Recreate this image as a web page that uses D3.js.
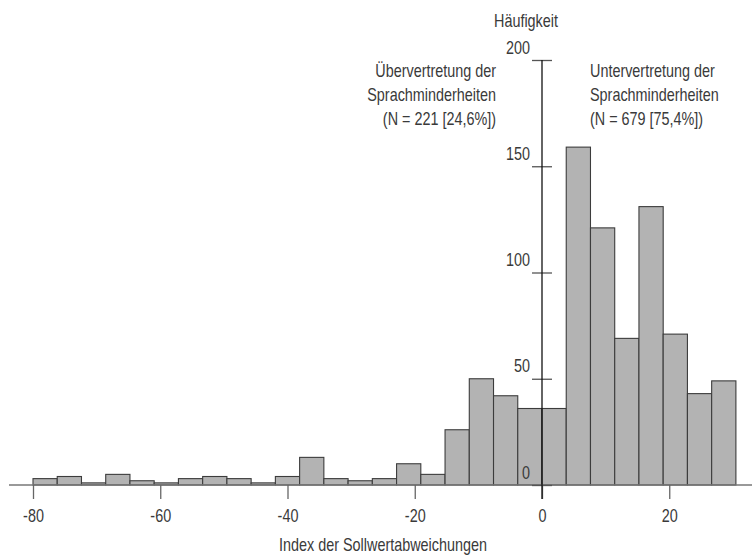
<!DOCTYPE html>
<html>
<head>
<meta charset="utf-8">
<script src="https://cdn.jsdelivr.net/npm/d3@7"></script>
<style>
  body { margin: 0; background: #fff; }
  text { font-family: "Liberation Sans", Arial, sans-serif; fill: #3a3a3a; }
</style>
</head>
<body>
<div id="chart"></div>
<script>
// histogram: bins of width 80/21 starting at -80
const BIN_START = -80;
const BIN_WIDTH = 80 / 21;
const counts = [3, 4, 1, 5, 2, 1, 3, 4, 3, 1, 4, 13, 3, 2, 3, 10, 5, 26, 50, 42, 36,
                36, 159, 121, 69, 131, 71, 43, 49];
const xTicks = [-80, -60, -40, -20, 0, 20];
const yTicks = [0, 50, 100, 150, 200];
const xTitle = "Index der Sollwertabweichungen";
const yTitle = "Häufigkeit";
const leftNote  = ["Übervertretung der", "Sprachminderheiten", "(N = 221 [24,6%])"];
const rightNote = ["Untervertretung der", "Sprachminderheiten", "(N = 679 [75,4%])"];

const W = 752, H = 555;
const NARROW = 0.8; // the original uses a condensed face
const FS = 18;

const svg = d3.select("#chart").append("svg")
  .attr("width", W).attr("height", H);

const x = d3.scaleLinear().domain([-80, 0]).range([33, 542]);
const y = d3.scaleLinear().domain([0, 200]).range([485, 60]);

const bins = counts.map((c, i) => ({
  x0: BIN_START + i * BIN_WIDTH,
  x1: BIN_START + (i + 1) * BIN_WIDTH,
  n: c
}));

// text block at (tx,ty), squeezed horizontally
function label(tx, ty, lines, anchor, lineH = 24) {
  const g = svg.append("g")
    .attr("transform", `translate(${tx},${ty}) scale(${NARROW},1)`);
  g.append("text")
    .attr("text-anchor", anchor)
    .attr("font-size", FS)
    .selectAll("tspan")
    .data(lines)
    .join("tspan")
      .attr("x", 0)
      .attr("y", (d, i) => i * lineH)
      .text(d => d);
}

// bars
svg.append("g")
  .selectAll("rect")
  .data(bins)
  .join("rect")
    .attr("x", d => x(d.x0))
    .attr("y", d => y(d.n))
    .attr("width", d => x(d.x1) - x(d.x0))
    .attr("height", d => y(0) - y(d.n))
    .attr("fill", "#b3b3b3")
    .attr("stroke", "#3c3c3c")
    .attr("stroke-width", 1.1);

// baseline
svg.append("line")
  .attr("x1", 9).attr("x2", W)
  .attr("y1", y(0)).attr("y2", y(0))
  .attr("stroke", "#777").attr("stroke-width", 1.3);

// x axis
const xAxis = svg.append("g")
  .attr("transform", `translate(0,${y(0)})`)
  .call(d3.axisBottom(x).tickValues(xTicks).tickSize(14).tickPadding(0)
    .tickFormat(d => d));
xAxis.select(".domain").remove();
xAxis.selectAll(".tick line").attr("stroke", "#666").attr("stroke-width", 1.3);
xAxis.selectAll(".tick text")
  .attr("y", 37).attr("dy", null)
  .attr("transform", `scale(${NARROW},1)`)
  .attr("font-size", FS).attr("fill", "#3a3a3a")
  .attr("font-family", null);

label(383, 551, [xTitle], "middle");

// y axis
const yAxis = svg.append("g")
  .attr("transform", `translate(${x(0)},0)`)
  .call(d3.axisLeft(y).tickValues(yTicks).tickSize(10).tickPadding(0));
yAxis.select(".domain").remove();
yAxis.selectAll(".tick line")
  .attr("x1", -10).attr("x2", 10)
  .attr("stroke", "#555").attr("stroke-width", 1.3);
yAxis.selectAll(".tick text")
  .attr("x", -12 / NARROW).attr("dy", -7)
  .attr("transform", `scale(${NARROW},1)`)
  .attr("font-size", FS).attr("fill", "#3a3a3a")
  .attr("font-family", null);

svg.append("line")
  .attr("x1", x(0)).attr("x2", x(0))
  .attr("y1", y(200)).attr("y2", y(0) + 14)
  .attr("stroke", "#111").attr("stroke-width", 1.3);

label(526, 27, [yTitle], "middle");

// annotations
label(496, 77, leftNote, "end");
label(590, 77, rightNote, "start");
</script>
</body>
</html>
